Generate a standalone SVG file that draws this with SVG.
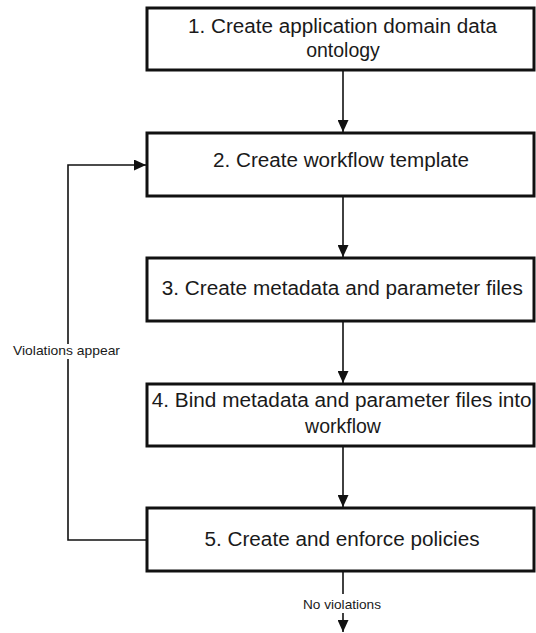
<svg xmlns="http://www.w3.org/2000/svg" width="536" height="633" viewBox="0 0 536 633">
  <style>
    .box { fill: #ffffff; stroke: #111111; stroke-width: 3; }
    .lbl { font-family: "Liberation Sans", Arial, sans-serif; font-size: 19.5px; fill: #1a1a1a; text-anchor: middle; }
    .note { font-family: "Liberation Sans", Arial, sans-serif; font-size: 13px; fill: #1a1a1a; text-anchor: middle; }
    .wire { fill: none; stroke: #111111; stroke-width: 1.6; }
    .mask { fill: #ffffff; stroke: none; }
  </style>
  <defs>
    <marker id="arrow" markerUnits="userSpaceOnUse" markerWidth="13" markerHeight="11" viewBox="0 0 13 11" refX="12" refY="5.5" orient="auto">
      <path d="M0,0 L12,5.5 L0,11 Z" fill="#111111"/>
    </marker>
  </defs>

  <rect width="536" height="633" fill="#ffffff"/>

  <!-- connectors -->
  <g id="connectors">
    <line class="wire" x1="343" y1="70" x2="343" y2="132" marker-end="url(#arrow)"/>
    <line class="wire" x1="343" y1="196" x2="343" y2="257" marker-end="url(#arrow)"/>
    <line class="wire" x1="343" y1="321" x2="343" y2="383" marker-end="url(#arrow)"/>
    <line class="wire" x1="343" y1="446" x2="343" y2="507" marker-end="url(#arrow)"/>
    <!-- feedback loop from step 5 back to step 2 -->
    <polyline class="wire" points="147,540 68,540 68,165 146,165" marker-end="url(#arrow)"/>
    <rect class="mask" x="10" y="344" width="114" height="15"/>
    <text class="note" x="66.5" y="355" textLength="107" lengthAdjust="spacingAndGlyphs">Violations appear</text>
    <!-- exit path -->
    <line class="wire" x1="343" y1="571" x2="343" y2="632" marker-end="url(#arrow)"/>
    <rect class="mask" x="300" y="594" width="85" height="19"/>
    <text class="note" x="342" y="608.5" textLength="78" lengthAdjust="spacingAndGlyphs">No violations</text>
  </g>

  <g id="step1">
    <rect class="box" x="147" y="8" width="387" height="62"/>
    <text class="lbl" x="342.5" y="32.7" textLength="309" lengthAdjust="spacingAndGlyphs">1. Create application domain data</text>
    <text class="lbl" x="343" y="57.3">ontology</text>
  </g>

  <g id="step2">
    <rect class="box" x="147" y="133" width="387" height="63"/>
    <text class="lbl" x="341" y="166.7" textLength="256" lengthAdjust="spacingAndGlyphs">2. Create workflow template</text>
  </g>

  <g id="step3">
    <rect class="box" x="147" y="258" width="387" height="63"/>
    <text class="lbl" x="342.3" y="295" textLength="361" lengthAdjust="spacingAndGlyphs">3. Create metadata and parameter files</text>
  </g>

  <g id="step4">
    <rect class="box" x="147" y="384" width="387" height="62"/>
    <text class="lbl" x="341.7" y="407" textLength="380" lengthAdjust="spacingAndGlyphs">4. Bind metadata and parameter files into</text>
    <text class="lbl" x="343" y="433.3">workflow</text>
  </g>

  <g id="step5">
    <rect class="box" x="147" y="508" width="387" height="63"/>
    <text class="lbl" x="342" y="546" textLength="275" lengthAdjust="spacingAndGlyphs">5. Create and enforce policies</text>
  </g>
</svg>
